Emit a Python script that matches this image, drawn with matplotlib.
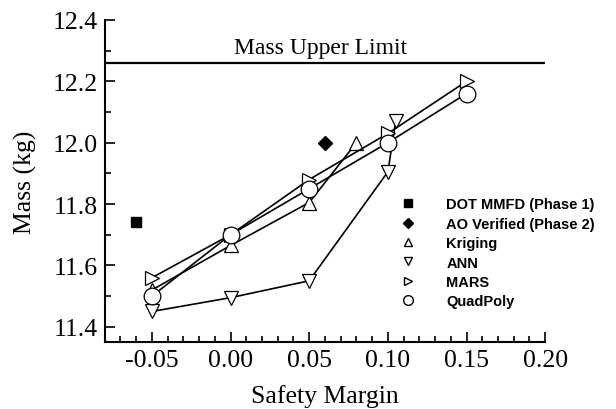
import numpy as np
import matplotlib
matplotlib.use('Agg')
import matplotlib.pyplot as plt
from matplotlib.lines import Line2D
from matplotlib.ticker import MultipleLocator

# values
dot_x = [-0.06]
dot_y = [11.74]
ao_x = [0.06]
ao_y = [12.0]

krig_x = [-0.05, 0.0, 0.05, 0.08]
krig_y = [11.52, 11.665, 11.805, 12.0]

ann_x = [-0.05, 0.0, 0.05, 0.10, 0.105]
ann_y = [11.45, 11.495, 11.55, 11.905, 12.07]

mars_x = [-0.05, 0.0, 0.05, 0.10, 0.15]
mars_y = [11.56, 11.70, 11.88, 12.03, 12.20]

quad_x = [-0.05, 0.0, 0.05, 0.10, 0.15]
quad_y = [11.50, 11.70, 11.85, 12.0, 12.16]

mass_limit = 12.26

serif = 'Liberation Serif'
sans = 'Liberation Sans'

fig = plt.figure(figsize=(6.16, 4.10), dpi=100)
ax = fig.add_axes([0.170, 0.163, 0.715, 0.786])

lw = 1.2
ax.plot(krig_x, krig_y, '-', color='black', lw=lw, marker='^', ms=10,
        mfc='white', mec='black', mew=0.9, zorder=3)
ax.plot(ann_x, ann_y, '-', color='black', lw=lw, marker='v', ms=10,
        mfc='white', mec='black', mew=0.9, zorder=3)
ax.plot(mars_x, mars_y, '-', color='black', lw=lw, marker='>', ms=10,
        mfc='white', mec='black', mew=0.9, zorder=3)
ax.plot(quad_x, quad_y, '-', color='black', lw=lw, marker='o', ms=12,
        mfc='white', mec='black', mew=0.9, zorder=4)
ax.plot(dot_x, dot_y, 's', color='black', ms=7, zorder=5)
ax.plot(ao_x, ao_y, 'D', color='black', ms=7, zorder=5)

ax.axhline(mass_limit, color='black', lw=1.6, zorder=2)
ax.text(0.057, 12.292, 'Mass Upper Limit', ha='center', va='baseline',
        fontsize=17, family=serif)

ax.set_xlim(-0.08, 0.20)
ax.set_ylim(11.35, 12.4)
ax.xaxis.set_major_locator(MultipleLocator(0.05))
ax.xaxis.set_minor_locator(MultipleLocator(0.01))
ax.yaxis.set_major_locator(MultipleLocator(0.2))
ax.yaxis.set_minor_locator(MultipleLocator(0.1))
ax.xaxis.set_major_formatter(plt.FormatStrFormatter('%.2f'))
ax.yaxis.set_major_formatter(plt.FormatStrFormatter('%.1f'))

for s in ['top', 'right']:
    ax.spines[s].set_visible(False)
for s in ['left', 'bottom']:
    ax.spines[s].set_linewidth(1.5)

ax.tick_params(which='both', direction='in', width=1.2, top=False, right=False)
ax.tick_params(which='major', length=7, labelsize=18.5, pad=5)
ax.tick_params(which='minor', length=4)
for lab in ax.get_xticklabels() + ax.get_yticklabels():
    lab.set_family(serif)

ax.set_xlabel('Safety Margin', fontsize=18.5, family=serif, labelpad=9)
ax.set_ylabel('Mass (kg)', fontsize=18.5, family=serif, labelpad=11)

handles = [
    Line2D([], [], ls='none', marker='s', color='black', ms=6),
    Line2D([], [], ls='none', marker='D', color='black', ms=5),
    Line2D([], [], ls='none', marker='^', mfc='white', mec='black', ms=6),
    Line2D([], [], ls='none', marker='v', mfc='white', mec='black', ms=6),
    Line2D([], [], ls='none', marker='>', mfc='white', mec='black', ms=6),
    Line2D([], [], ls='none', marker='o', mfc='white', mec='black', ms=7),
]
labels = ['DOT MMFD (Phase 1)', 'AO Verified (Phase 2)', 'Kriging', 'ANN',
          'MARS', 'QuadPoly']
ax.legend(handles, labels, loc='upper left', bbox_to_anchor=(0.656, 0.472),
          frameon=False, borderpad=0, handlelength=1.0, handletextpad=2.1,
          labelspacing=0.37, prop={'family': sans, 'weight': 'bold', 'size': 10.5})

fig.savefig('out.png', dpi=100)
